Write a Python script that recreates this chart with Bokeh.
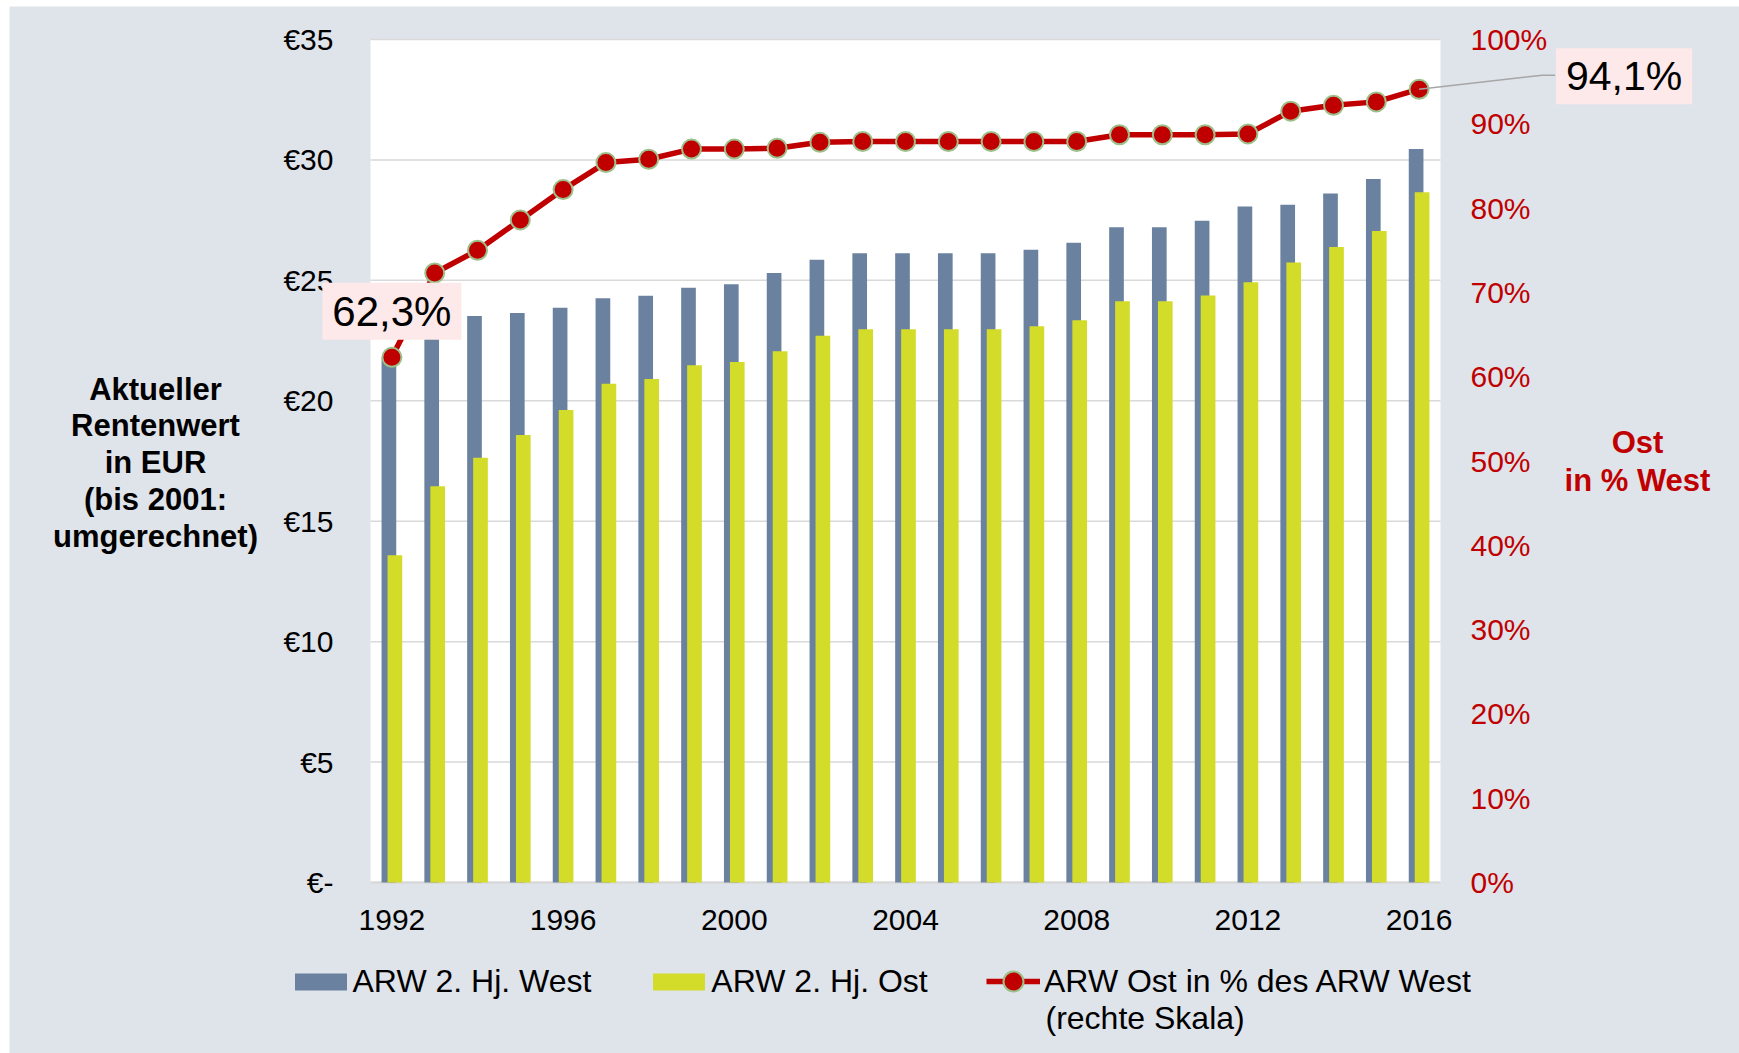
from bokeh.plotting import figure
from bokeh.models import (Range1d, LinearAxis, FixedTicker, Legend, LegendItem,
                          Label, Arrow, ColumnDataSource, BoxAnnotation)
from bokeh.transform import dodge
from bokeh.embed import file_html
from bokeh.resources import INLINE

# ---------------- data ----------------
years = list(range(1992, 2017))
west = [21.80, 22.75, 23.52, 23.64, 23.86, 24.26, 24.36, 24.69, 24.84, 25.31,
        25.86, 26.13, 26.13, 26.13, 26.13, 26.27, 26.56, 27.20, 27.20, 27.47,
        28.07, 28.14, 28.61, 29.21, 30.45]
ost = [13.59, 16.45, 17.63, 18.58, 19.62, 20.71, 20.90, 21.48, 21.61, 22.06,
       22.70, 22.97, 22.97, 22.97, 22.97, 23.09, 23.34, 24.13, 24.13, 24.37,
       24.92, 25.74, 26.39, 27.05, 28.66]
pct = [62.3, 72.3, 75.0, 78.6, 82.2, 85.4, 85.8, 87.0, 87.0, 87.1,
       87.8, 87.9, 87.9, 87.9, 87.9, 87.9, 87.9, 88.7, 88.7, 88.7,
       88.8, 91.5, 92.2, 92.6, 94.1]
x_ticks = [1992, 1996, 2000, 2004, 2008, 2012, 2016]
eur_ticks = [0, 5, 10, 15, 20, 25, 30, 35]
eur_labels = ["€-", "€5", "€10", "€15", "€20", "€25", "€30", "€35"]
pct_ticks = [0, 10, 20, 30, 40, 50, 60, 70, 80, 90, 100]
pct_labels = [f"{t}%" for t in pct_ticks]
series_names = ["ARW 2. Hj. West", "ARW 2. Hj. Ost",
                "ARW Ost in % des ARW West\n(rechte Skala)"]
left_title = "Aktueller\nRentenwert\nin EUR\n(bis 2001:\numgerechnet)"
right_title = "Ost\nin % West"

# ---------------- style / layout ----------------
BG = "#DFE3EA"
C_WEST = "#6A82A0"
C_OST = "#D4DC2A"
C_RED = "#C00000"
C_GRID = "#D9D9D9"
C_BOX = "#FDE9E9"
FONT = "Liberation Sans"

W, H = 1730, 1047           # figure size (placed with a small white margin)
ML, MT = 9, 6               # page offset of the figure
AREA_L, AREA_R = 370, 1440  # plot-area edges on the page (px)
AREA_T, AREA_B = 39, 882
X0, X1 = 1991.5, 2016.5     # x extent of the plot area (years)
EUR_MAX, PCT_MAX = 35, 100
ppx = (AREA_R - AREA_L) / (X1 - X0)           # px per year
ppe = (AREA_B - AREA_T) / EUR_MAX             # px per EUR
ppp = (AREA_B - AREA_T) / PCT_MAX             # px per percent
PAGE_R, PAGE_B = ML + W, MT + H
x_start = X0 - (AREA_L - ML) / ppx
x_end = X1 + (PAGE_R - AREA_R) / ppx
y_start = -(PAGE_B - AREA_B) / ppe
y_end = EUR_MAX + (AREA_T - MT) / ppe
p_start = -(PAGE_B - AREA_B) / ppp
p_end = PCT_MAX + (AREA_T - MT) / ppp

def px_to_x(px):    # page px -> year units
    return X0 + (px - AREA_L) / ppx

def px_to_eur(py):  # page px -> EUR units
    return (AREA_B - py) / ppe

src = ColumnDataSource(dict(year=years, west=west, ost=ost, pct=pct))

p = figure(width=W, height=H, output_backend="svg", toolbar_location=None,
           x_range=Range1d(x_start, x_end), y_range=Range1d(y_start, y_end),
           min_border_left=0, min_border_right=0,
           min_border_top=0, min_border_bottom=0)
p.margin = (MT, 0, 0, ML)
p.extra_y_ranges = {"pct": Range1d(p_start, p_end)}
p.background_fill_color = BG
p.border_fill_color = BG
p.outline_line_color = None
p.xgrid.grid_line_color = None
p.ygrid.grid_line_color = None

# white plot area
p.add_layout(BoxAnnotation(left=X0, right=X1, bottom=0, top=EUR_MAX,
                           fill_color="white", fill_alpha=1, line_color=None,
                           level="underlay"))
# horizontal gridlines at the EUR ticks and the base line
p.segment(x0=X0, x1=X1, y0=eur_ticks[1:], y1=eur_ticks[1:], line_color=C_GRID,
          line_width=1.5)
p.segment(x0=X0, x1=X1, y0=eur_ticks[0], y1=eur_ticks[0], line_color=C_GRID,
          line_width=2.5)

# left axis (labels placed at the plot-area edge)
ya = p.yaxis[0]
ya.ticker = FixedTicker(ticks=eur_ticks)
ya.major_label_overrides = dict(zip(eur_ticks, eur_labels))
ya.axis_line_color = None
ya.major_tick_line_color = None
ya.minor_tick_line_color = None
ya.major_tick_out = 0
ya.major_tick_in = 0
ya.major_label_standoff = -(AREA_L - 37 - ML)
ya.major_label_text_font = FONT
ya.major_label_text_font_size = "30px"
ya.major_label_text_color = "black"

# bottom axis (labels just under the plot area)
xa = p.xaxis[0]
xa.ticker = FixedTicker(ticks=x_ticks)
xa.axis_line_color = None
xa.major_tick_line_color = None
xa.minor_tick_line_color = None
xa.major_tick_out = 0
xa.major_tick_in = 0
xa.major_label_standoff = -(PAGE_B - AREA_B - 27)
xa.major_label_text_font = FONT
xa.major_label_text_font_size = "30px"
xa.major_label_text_color = "black"

# right axis (percent)
ra = LinearAxis(y_range_name="pct", ticker=FixedTicker(ticks=pct_ticks))
ra.major_label_overrides = dict(zip(pct_ticks, pct_labels))
ra.axis_line_color = None
ra.major_tick_line_color = None
ra.minor_tick_line_color = None
ra.major_tick_out = 0
ra.major_tick_in = 0
ra.major_label_standoff = -(PAGE_R - (AREA_R + 30))
ra.major_label_text_font = FONT
ra.major_label_text_font_size = "30px"
ra.major_label_text_color = C_RED
p.add_layout(ra, "right")

# bars
bw = p.vbar(x=dodge("year", -0.07, range=p.x_range), top="west", width=0.343,
            source=src, fill_color=C_WEST, line_color=None)
bo = p.vbar(x=dodge("year", 0.07, range=p.x_range), top="ost", width=0.343,
            source=src, fill_color=C_OST, line_color=None)

# percentage line
ln = p.line(x="year", y="pct", source=src, y_range_name="pct",
            line_color=C_RED, line_width=5.5)
mk = p.scatter(x="year", y="pct", source=src, y_range_name="pct", size=19,
               fill_color=C_RED, line_color="#9DC08B", line_width=2)

# leader line for the last value
last_x, last_y = years[-1], pct[-1]
kx, ky = last_x + 123 / ppx, last_y + 14 / ppp
p.add_layout(Arrow(end=None, x_start=last_x, y_start=last_y, x_end=kx, y_end=ky,
                   y_range_name="pct", line_color="#A6A6A6", line_width=1.5))
p.add_layout(Arrow(end=None, x_start=kx, y_start=ky, x_end=kx + 13 / ppx,
                   y_end=ky, y_range_name="pct", line_color="#A6A6A6",
                   line_width=1.5))

def fmt(v):
    return f"{v:.1f}%".replace(".", ",")

p.add_layout(Label(x=years[0], y=pct[0], y_range_name="pct", x_offset=0,
                   y_offset=46, text=fmt(pct[0]), text_align="center",
                   text_baseline="middle", text_font=FONT,
                   text_font_size="42px", text_color="black",
                   background_fill_color=C_BOX, padding=(10, 5)))
p.add_layout(Label(x=last_x, y=last_y, y_range_name="pct", x_offset=205,
                   y_offset=13, text=fmt(last_y), text_align="center",
                   text_baseline="middle", text_font=FONT,
                   text_font_size="41px", text_color="black",
                   background_fill_color=C_BOX, padding=(10, 5)))

# axis titles
p.add_layout(Label(x=px_to_x(155), y=px_to_eur(462), text=left_title,
                   text_align="center", text_baseline="middle", text_font=FONT,
                   text_font_size="31px", text_font_style="bold",
                   text_color="black", text_line_height=1.05))
p.add_layout(Label(x=px_to_x(1637), y=px_to_eur(461), text=right_title,
                   text_align="center", text_baseline="middle",
                   text_font=FONT, text_font_size="31px", text_font_style="bold",
                   text_color=C_RED, text_line_height=1.08))

# legends below the chart
leg_common = dict(orientation="horizontal", label_text_font=FONT,
                  label_text_font_size="32px", label_text_color="black",
                  padding=0, margin=0, background_fill_alpha=0,
                  border_line_color=None)
line_name, line_note = series_names[2].split("\n")
legend_bars = Legend(items=[LegendItem(label=series_names[0], renderers=[bw]),
                            LegendItem(label=series_names[1], renderers=[bo])],
                     location=(287.5 - ML, PAGE_B - 1000), glyph_width=65,
                     glyph_height=21, label_standoff=0, spacing=55,
                     **leg_common)
legend_line = Legend(items=[LegendItem(label=line_name, renderers=[ln, mk])],
                     location=(986 - ML, PAGE_B - 1006), glyph_width=54,
                     glyph_height=50, label_standoff=4, **leg_common)
p.add_layout(legend_bars, "center")
p.add_layout(legend_line, "center")
p.add_layout(Label(x=px_to_x(1045), y=px_to_eur(1017), text=line_note,
                   text_align="left", text_baseline="alphabetic",
                   text_font=FONT, text_font_size="32px", text_color="black"))

open("out.html", "w").write(file_html(p, INLINE))
